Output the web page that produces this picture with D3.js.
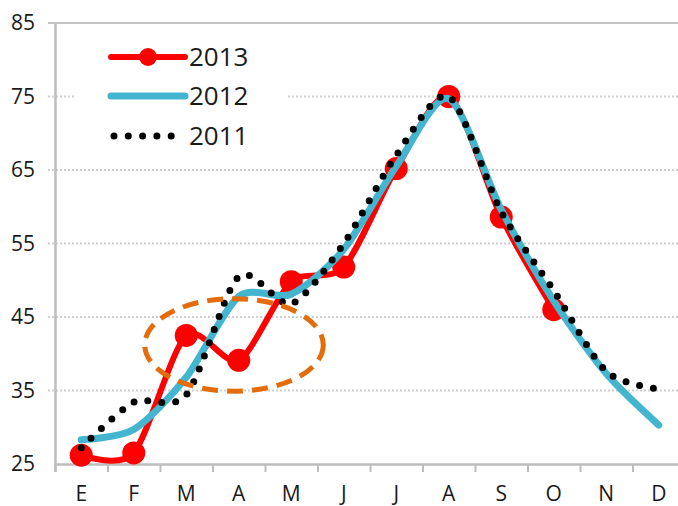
<!DOCTYPE html>
<html>
<head>
<meta charset="utf-8">
<script src="https://cdn.jsdelivr.net/npm/d3@7"></script>
<style>
  body { margin: 0; background: #fff; }
  text { font-family: "Open Sans", "Noto Sans", sans-serif; fill: #1a1a1a; }
</style>
</head>
<body>
<div id="chart"></div>
<script>
/* DATA */
const months = ["E", "F", "M", "A", "M", "J", "J", "A", "S", "O", "N", "D"];
const yTicks = [25, 35, 45, 55, 65, 75, 85];
const t2013 = [26.2, 26.5, 42.5, 39.1, 49.8, 51.8, 65.2, 75.0, 58.6, 46.0];
const t2012 = [28.3, 29.7, 36.8, 47.8, 48.1, 54.2, 65.5, 74.7, 59.6, 47.2, 37.3, 30.3];
const t2011 = [27.2, 33.4, 34.4, 50.5, 46.8, 55.0, 67.0, 75.0, 59.3, 48.6, 37.6, 35.2];
const seriesNames = ["2013", "2012", "2011"];
// highlighted area (month index / temperature units)
const circleNote = { x: 2.91, y: 41.2, rx: 1.7, ry: 6.3 };

/* CONSTANTS */
const width = 678,
  height = 506,
  margin = { top: 23, bottom: 42, left: 55, right: -7 };

const svg = d3.select("#chart")
  .append("svg")
  .attr("width", width)
  .attr("height", height);

// scales
const xScale = d3.scaleBand()
  .domain(d3.range(months.length))
  .range([margin.left, width - margin.right]);

const xEdge = d3.scaleLinear()
  .domain([0, months.length])
  .range([margin.left, width - margin.right]);

const yScale = d3.scaleLinear()
  .domain([25, 85])
  .range([height - margin.bottom, margin.top]);

const xPos = i => xScale(i) + xScale.bandwidth() / 2;

// gridlines (dotted), top one solid
svg.append("g")
  .selectAll("line")
  .data(yTicks.slice(1))
  .join("line")
  .attr("x1", margin.left - 7)
  .attr("x2", width)
  .attr("y1", d => yScale(d))
  .attr("y2", d => yScale(d))
  .attr("stroke", d => d === 85 ? "#c4c4c4" : "#cfcfcf")
  .attr("stroke-width", 2)
  .attr("stroke-dasharray", d => d === 85 ? null : "2 2");

// y axis
const yAxis = svg.append("g")
  .attr("transform", `translate(${margin.left},0)`)
  .call(d3.axisLeft(yScale).tickValues(yTicks).tickSize(0).tickPadding(20));
yAxis.select(".domain").attr("stroke", "#bdbdbd").attr("stroke-width", 2.5);
yAxis.selectAll("text").attr("font-size", 21).attr("fill", "#1a1a1a");

// x axis: edge ticks + centred labels
const xTicks = svg.append("g")
  .attr("transform", `translate(0,${yScale(25)})`)
  .call(d3.axisBottom(xEdge).tickValues(d3.range(months.length + 1)).tickFormat("").tickSize(8));
xTicks.select(".domain").attr("stroke", "#bdbdbd").attr("stroke-width", 2.5);
xTicks.selectAll(".tick line").attr("stroke", "#bdbdbd").attr("stroke-width", 2);

const xLabels = svg.append("g")
  .attr("transform", `translate(0,${yScale(25)})`)
  .call(d3.axisBottom(xScale).tickSize(0).tickPadding(22).tickFormat(i => months[i]));
xLabels.select(".domain").remove();
xLabels.selectAll("text").attr("font-size", 21).attr("fill", "#1a1a1a");

// line generator
const line = d3.line()
  .x((d, i) => xPos(i))
  .y(d => yScale(d))
  .curve(d3.curveCardinal.tension(0.2));

// 2013 (bottom)
svg.append("path")
  .datum(t2013)
  .attr("d", line)
  .attr("fill", "none")
  .attr("stroke", "#ff0000")
  .attr("stroke-width", 6)
  .attr("stroke-linecap", "round");

svg.append("g")
  .selectAll("circle")
  .data(t2013)
  .join("circle")
  .attr("cx", (d, i) => xPos(i))
  .attr("cy", d => yScale(d))
  .attr("r", 11.5)
  .attr("fill", "#ff0000");

// 2012
svg.append("path")
  .datum(t2012)
  .attr("d", line)
  .attr("fill", "none")
  .attr("stroke", "#44b5cf")
  .attr("stroke-width", 7)
  .attr("stroke-linecap", "round");

// 2011 dotted
svg.append("path")
  .datum(t2011)
  .attr("d", line)
  .attr("fill", "none")
  .attr("stroke", "#000")
  .attr("stroke-width", 7)
  .attr("stroke-linecap", "round")
  .attr("stroke-dasharray", "0 14");

// annotation ellipse
svg.append("ellipse")
  .attr("cx", xEdge(circleNote.x + 0.5))
  .attr("cy", yScale(circleNote.y))
  .attr("rx", xEdge(circleNote.rx) - xEdge(0))
  .attr("ry", yScale(25) - yScale(25 + circleNote.ry))
  .attr("fill", "none")
  .attr("stroke", "#e46c0a")
  .attr("stroke-width", 5)
  .attr("stroke-dasharray", "16 9");

// legend
const legend = svg.append("g");
legend.append("rect")
  .attr("x", 76).attr("y", 32)
  .attr("width", 210).attr("height", 122)
  .attr("fill", "#fff");

const rows = legend.selectAll("g.row")
  .data(seriesNames)
  .join("g")
  .attr("class", "row")
  .attr("transform", (d, i) => `translate(0,${[57, 96, 136][i]})`);

rows.append("line")
  .attr("x1", (d, i) => i === 2 ? 114 : 111)
  .attr("x2", (d, i) => i === 2 ? 176 : 185)
  .attr("stroke", (d, i) => ["#ff0000", "#44b5cf", "#000"][i])
  .attr("stroke-width", (d, i) => [6, 7, 7][i])
  .attr("stroke-linecap", "round")
  .attr("stroke-dasharray", (d, i) => i === 2 ? "0 14.3" : null);

rows.filter((d, i) => i === 0)
  .append("circle")
  .attr("cx", 148)
  .attr("r", 9)
  .attr("fill", "#ff0000");

rows.append("text")
  .attr("x", 189)
  .attr("dy", "0.36em")
  .attr("font-size", 26)
  .text(d => d);
</script>
</body>
</html>
